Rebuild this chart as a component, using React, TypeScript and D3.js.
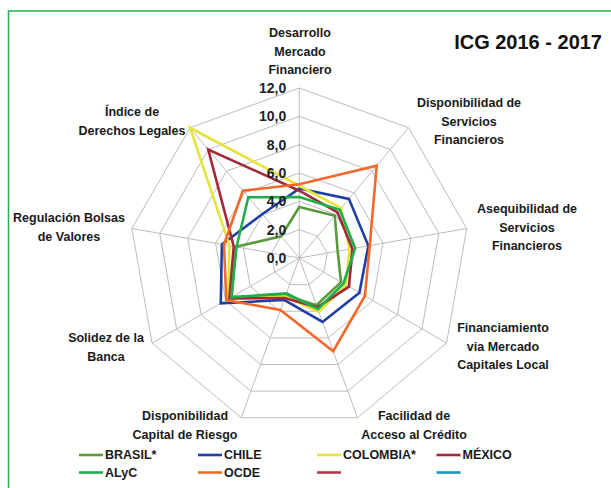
import React from "react";
import * as d3 from "d3";

const axes = [
  ["Desarrollo", "Mercado", "Financiero"],
  ["Disponibilidad de", "Servicios", "Financieros"],
  ["Asequibilidad de", "Servicios", "Financieros"],
  ["Financiamiento", "via Mercado", "Capitales Local"],
  ["Facilidad de", "Acceso al Crédito"],
  ["Disponibilidad", "Capital de Riesgo"],
  ["Solidez de la", "Banca"],
  ["Regulación Bolsas", "de Valores"],
  ["Índice de", "Derechos Legales"],
];

const brasil = [3.6, 3.9, 2.75, 3.4, 3.55, 2.8, 5.5, 4.55, 2.0];
const chile = [4.9, 5.45, 4.95, 4.9, 4.8, 3.15, 6.4, 5.55, 4.05];
const colombia = [5.1, 4.6, 3.6, 3.8, 4.05, 2.9, 5.8, 5.0, 12.0];
const mexico = [4.75, 4.2, 3.8, 4.05, 3.7, 3.0, 5.7, 4.7, 10.0];
const alyc = [4.3, 4.45, 4.0, 3.6, 3.85, 2.65, 5.55, 4.5, 5.6];
const ocde = [5.2, 8.5, 5.05, 5.35, 7.0, 3.9, 5.95, 5.4, 6.2];

const ticks = [0, 2, 4, 6, 8, 10, 12];
const tickLabels = ["0,0", "2,0", "4,0", "6,0", "8,0", "10,0", "12,0"];

const series = [
  { name: "BRASIL*", values: brasil, color: "#5a9a3c" },
  { name: "CHILE", values: chile, color: "#1f3fa6" },
  { name: "COLOMBIA*", values: colombia, color: "#e4e43a" },
  { name: "MÉXICO", values: mexico, color: "#a3283a" },
  { name: "ALyC", values: alyc, color: "#1fae4a" },
  { name: "OCDE", values: ocde, color: "#f4682a" },
];

const legendItems = [
  { name: "BRASIL*", color: "#5a9a3c" },
  { name: "CHILE", color: "#1f3fa6" },
  { name: "COLOMBIA*", color: "#e4e43a" },
  { name: "MÉXICO", color: "#a3283a" },
  { name: "ALyC", color: "#1fae4a" },
  { name: "OCDE", color: "#f4682a" },
  { name: "", color: "#b23a48" },
  { name: "", color: "#1a9bb0" },
];

const labelPos = [
  { x: 300, y: 33 },
  { x: 469, y: 103 },
  { x: 527, y: 209 },
  { x: 503, y: 328 },
  { x: 414, y: 416 },
  { x: 185, y: 416 },
  { x: 106, y: 338 },
  { x: 69, y: 218 },
  { x: 132, y: 112 },
];

export default function App() {
  const W = 611, H = 488;
  const cx = 299.3, cy = 258;
  const R = 170;
  const r = d3.scaleLinear().domain([0, 12]).range([0, R]);
  const n = axes.length;
  const ang = d3.scaleLinear().domain([0, n]).range([0, 2 * Math.PI]);
  const pt = (i: number, v: number): [number, number] => {
    const a = ang(i);
    return [cx + r(v) * Math.sin(a), cy - r(v) * Math.cos(a)];
  };
  const line = d3.line<[number, number]>().curve(d3.curveLinearClosed);
  const font = "'Liberation Sans', Arial, sans-serif";

  return (
    <svg width={W} height={H} style={{ position: "absolute", left: 0, top: 0, background: "#fff" }} fontFamily={font}>
      <rect x={0} y={0} width={W} height={H} fill="#fff" />
      <rect x={8.5} y={11} width={700} height={600} fill="none" stroke="#22b14c" strokeWidth={1.5} />
      {ticks.filter((t) => t > 0).map((t) => (
        <path key={t} d={line(d3.range(n).map((i) => pt(i, t))) || ""} fill="none" stroke="#bdbdbd" strokeWidth={1} />
      ))}
      {d3.range(n).map((i) => {
        const [x, y] = pt(i, 12);
        return <line key={i} x1={cx} y1={cy} x2={x} y2={y} stroke="#bdbdbd" strokeWidth={1} />;
      })}
      {series.map((s) => (
        <path key={s.name} d={line(s.values.map((v, i) => pt(i, v))) || ""} fill="none" stroke={s.color} strokeWidth={2.6} strokeLinejoin="miter" />
      ))}
      {ticks.map((t, k) => (
        <text key={t} x={cx - 13} y={r(-t) + cy} dy="0.35em" textAnchor="end" fontSize={14} fontWeight="bold" fill="#222">
          {tickLabels[k]}
        </text>
      ))}
      {axes.map((lines, i) => (
        <text key={i} textAnchor="middle" fontSize={12.5} fontWeight="bold" fill="#1a1a1a">
          {lines.map((l, j) => (
            <tspan key={j} x={labelPos[i].x} y={labelPos[i].y + j * 18.5} dy="0.35em">{l}</tspan>
          ))}
        </text>
      ))}
      <text x={602} y={42} dy="0.35em" textAnchor="end" fontSize={20} fontWeight="bold" fill="#111">ICG 2016 - 2017</text>
      {legendItems.map((it, k) => {
        const col = k % 4, row = Math.floor(k / 4);
        const lx = [79, 198, 317, 436.5][col];
        const ly = 455 + row * 17.5;
        return (
          <g key={k}>
            <line x1={lx} x2={lx + 24} y1={ly} y2={ly} stroke={it.color} strokeWidth={2.6} />
            <text x={lx + 26} y={ly} dy="0.35em" fontSize={12.5} fontWeight="bold" fill="#1a1a1a">{it.name}</text>
          </g>
        );
      })}
    </svg>
  );
}
